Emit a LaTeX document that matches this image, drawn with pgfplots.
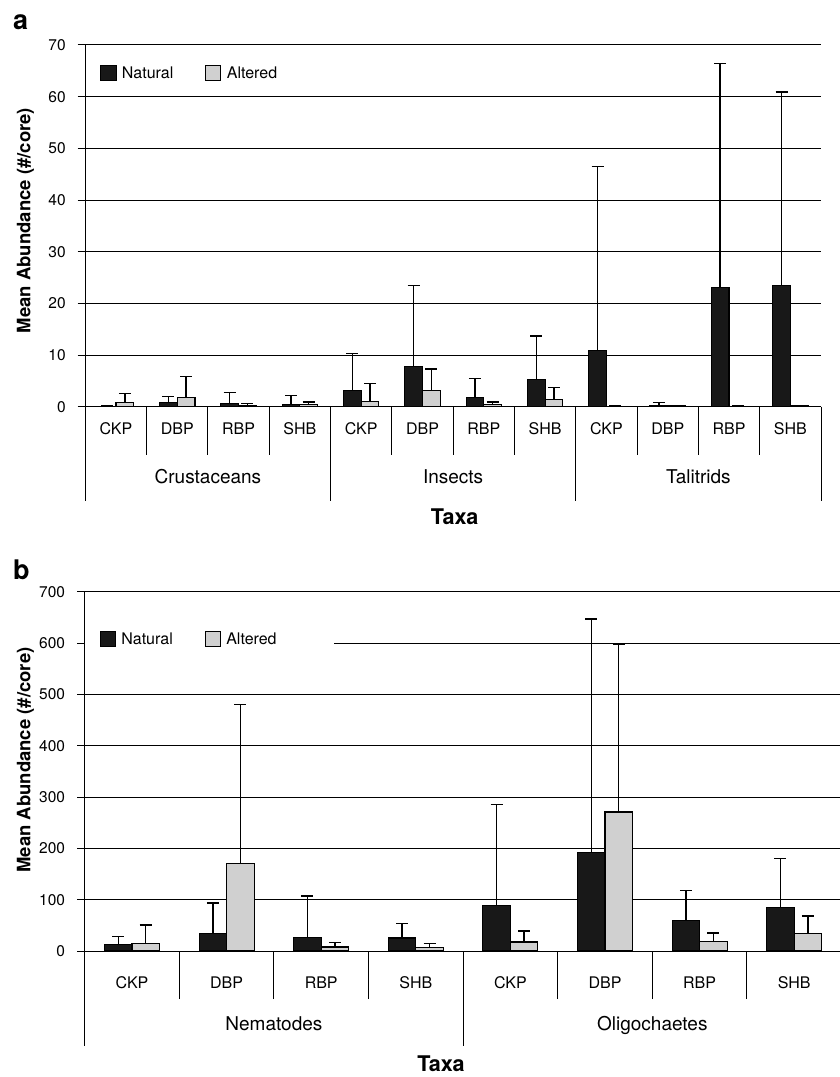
\documentclass[border=0pt]{standalone}
\usepackage{pgfplots}
\pgfplotsset{compat=1.18}
\usepackage{pgfplotstable}
\usepackage{fontspec}
\setmainfont{TeX Gyre Heros}
\definecolor{nat}{HTML}{181818}
\definecolor{alt}{HTML}{D0D0D0}

\pgfplotstableread{
x  n     ne    a     ae
1  0.10  0.00  0.83  1.67
2  0.80  1.20  1.70  4.10
3  0.60  2.20  0.30  0.30
4  0.45  1.75  0.40  0.50
5  3.20  7.05  1.00  3.45
6  7.70  15.80 3.10  4.20
7  1.80  3.60  0.45  0.45
8  5.35  8.35  1.35  2.35
9  10.80 35.70 0.10  0.00
10 0.30  0.50  0.20  0.00
11 23.10 43.30 0.10  0.00
12 23.40 37.50 0.15  0.00
}\dataA

\pgfplotstableread{
x  n      ne     a      ae
1  12.3   16.3   14.3   36.4
2  34.4   59.2   169.6  310.4
3  26.0   81.0   7.8    8.4
4  25.3   28.7   7.1    7.2
5  88.3   196.7  17.6   21.4
6  192.0  454.6  270.8  327.2
7  59.0   59.0   18.3   16.7
8  84.4   95.6   34.4   33.6
}\dataB

\pgfplotsset{
  sqleg/.style={legend image code/.code={\draw[##1,line width=1pt] (0pt,-7.5pt) rectangle (15pt,7.5pt);\path[draw=none,fill=none] (0pt,0pt) -- (19pt,0pt);}},
  panel/.style={
    scale only axis, clip=false,
    ybar=0pt,
    axis x line*=bottom, axis y line*=left,
    axis line style={line width=1pt, black},
    tick align=outside,
    major tick length=7.6pt,
    minor tick length=48pt,
    tick style={line width=1pt, black},
    major x tick style={draw=none},
    ymajorgrids, grid style={line width=1pt, black},
    ymin=0, xmin=0.5,
    /pgf/number format/assume math mode=true,
    yticklabel style={font=\fontsize{15.5}{18}\selectfont, xshift=-8.5pt},
    legend columns=2,
    legend style={draw=none, fill=white, inner xsep=15pt, inner ysep=3pt,
      font=\fontsize{16}{19}\selectfont, anchor=west},
    error bars/y dir=plus, error bars/y explicit,
    error bars/error bar style={line width=1.4pt, black},
    error bars/error mark options={rotate=90, line width=1.4pt, mark size=6pt, black},
    ylabel={Mean Abundance (\#/core)},
    xlabel={Taxa},
  },
}

\begin{document}
\begin{tikzpicture}
\path[use as bounding box] (0pt,0pt) rectangle (840pt,1077pt);

% ---------------- panel a ----------------
\begin{axis}[panel,
  at={(85.3pt,670.3pt)}, anchor=south west,
  width=735.7pt, height=361.7pt,
  xmax=12.5, ymax=70,
  ytick={0,10,...,70},
  xtick={1,...,12},
  xticklabels={CKP,DBP,RBP,SHB,CKP,DBP,RBP,SHB,CKP,DBP,RBP,SHB},
  xticklabel style={font=\fontsize{16}{19}\selectfont, yshift=-5pt},
  minor xtick={1.5,2.5,3.5,5.5,6.5,7.5,9.5,10.5,11.5},
  bar width=17.7pt,
  legend style={at={(axis description cs:0,0.9226)}},
  every axis y label/.style={at={(axis description cs:-0.0813,0.5148)}, rotate=90, anchor=center,
     font=\bfseries\fontsize{18.5}{21}\selectfont},
  every axis x label/.style={at={(axis description cs:0.502,0)}, anchor=base, yshift=-118.3pt,
     font=\bfseries\fontsize{21.6}{24}\selectfont},
]
\addplot[fill=nat, draw=black, line width=1.1pt, sqleg] table[x=x, y=n, y error=ne]{\dataA};
\addlegendentry{Natural\hspace*{30pt}}
\addplot[fill=alt, draw=black, line width=1.1pt, sqleg] table[x=x, y=a, y error=ae]{\dataA};
\addlegendentry{Altered\hspace*{40pt}}
\pgfplotsinvokeforeach{0.5,4.5,8.5,12.5}{\draw[line width=1pt] (axis cs:#1,0) -- ++(0pt,-94pt);}
\node[font=\fontsize{19}{22}\selectfont, anchor=base, yshift=-77pt] at (axis cs:2.5,0) {Crustaceans};
\node[font=\fontsize{19}{22}\selectfont, anchor=base, yshift=-77pt] at (axis cs:6.5,0) {Insects};
\node[font=\fontsize{19}{22}\selectfont, anchor=base, yshift=-77pt] at (axis cs:10.5,0) {Talitrids};
\end{axis}

% ---------------- panel b ----------------
\begin{axis}[panel,
  at={(84.7pt,126pt)}, anchor=south west,
  width=756.8pt, height=359.3pt,
  xmax=8.5, ymax=700,
  ytick={0,100,...,700},
  xtick={1,...,8},
  xticklabels={CKP,DBP,RBP,SHB,CKP,DBP,RBP,SHB},
  xticklabel style={font=\fontsize{16}{19}\selectfont, yshift=-14.7pt},
  minor xtick={1.5,2.5,3.5,5.5,6.5,7.5},
  bar width=27.5pt,
  legend style={at={(axis description cs:0,0.8684)}},
  every axis y label/.style={at={(axis description cs:-0.0782,0.5316)}, rotate=90, anchor=center,
     font=\bfseries\fontsize{18.5}{21}\selectfont},
  every axis x label/.style={at={(axis description cs:0.4708,0)}, anchor=base, yshift=-120pt,
     font=\bfseries\fontsize{21.6}{24}\selectfont},
]
\addplot[fill=nat, draw=black, line width=1.1pt, sqleg] table[x=x, y=n, y error=ne]{\dataB};
\addlegendentry{Natural\hspace*{30pt}}
\addplot[fill=alt, draw=black, line width=1.1pt, sqleg] table[x=x, y=a, y error=ae]{\dataB};
\addlegendentry{Altered\hspace*{40pt}}
\pgfplotsinvokeforeach{0.5,4.5,8.5}{\draw[line width=1pt] (axis cs:#1,0) -- ++(0pt,-94.7pt);}
\node[font=\fontsize{19}{22}\selectfont, anchor=base, yshift=-79.3pt] at (axis cs:2.5,0) {Nematodes};
\node[font=\fontsize{19}{22}\selectfont, anchor=base, yshift=-79.3pt] at (axis cs:6.5,0) {Oligochaetes};
\end{axis}

\node[font=\bfseries\fontsize{27}{30}\selectfont, anchor=base west, inner sep=0pt] at (13pt,1047pt) {a};
\node[font=\bfseries\fontsize{27}{30}\selectfont, anchor=base west, inner sep=0pt] at (13pt,497.7pt) {b};
\end{tikzpicture}
\end{document}
